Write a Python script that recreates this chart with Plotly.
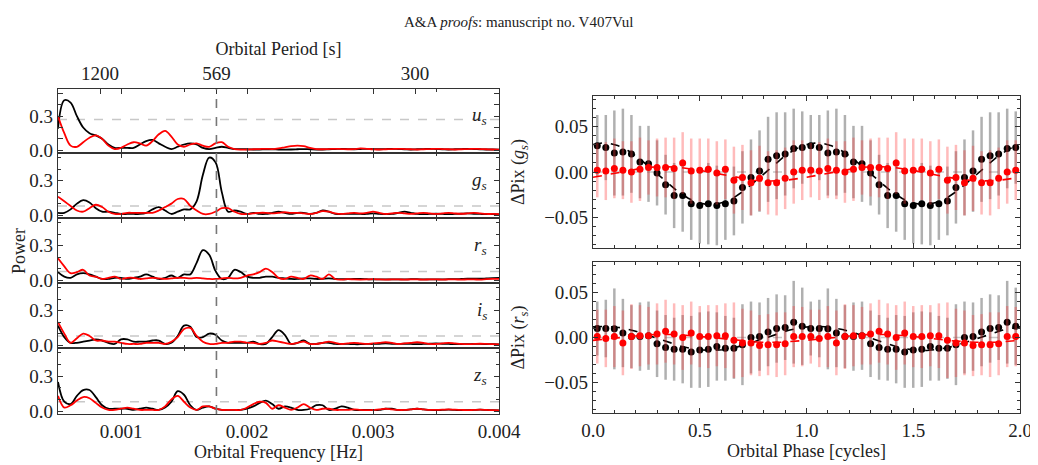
import numpy as np
import plotly.graph_objects as go

# ---------------- data ----------------
freq = [round(0.0005 + 0.00005 * k, 6) for k in range(71)]

u_black = [0.19, 0.44, 0.42, 0.30, 0.20, 0.15, 0.13, 0.10, 0.05, 0.02, 0.02, 0.02, 0.02, 0.05, 0.08,
           0.09, 0.06, 0.03, 0.01, 0.03, 0.05, 0.06, 0.05, 0.02, 0.01, 0.02, 0.03, 0.02, 0.01, 0.01,
           0.008, 0.006, 0.006, 0.008, 0.008, 0.006, 0.005, 0.006, 0.008, 0.01, 0.008, 0.006, 0.006, 0.008,
           0.01, 0.012, 0.01, 0.008, 0.01, 0.012, 0.01, 0.008, 0.01, 0.012, 0.01, 0.008, 0.006, 0.008, 0.01,
           0.012, 0.01, 0.008, 0.006, 0.008, 0.01, 0.012, 0.01, 0.008, 0.006, 0.006, 0.005]
u_red = [0.30, 0.15, 0.04, 0.03, 0.07, 0.11, 0.13, 0.10, 0.04, 0.01, 0.02, 0.05, 0.07, 0.06, 0.04,
         0.08, 0.14, 0.17, 0.12, 0.05, 0.03, 0.05, 0.06, 0.04, 0.03, 0.06, 0.07, 0.03, 0.01, 0.005,
         0.006, 0.008, 0.01, 0.012, 0.01, 0.015, 0.025, 0.035, 0.04, 0.035, 0.02, 0.01, 0.008, 0.01,
         0.012, 0.01, 0.008, 0.01, 0.015, 0.012, 0.008, 0.006, 0.008, 0.01, 0.012, 0.01, 0.008, 0.006,
         0.008, 0.01, 0.012, 0.01, 0.008, 0.006, 0.008, 0.01, 0.012, 0.01, 0.008, 0.006, 0.005]
g_black = [0.02, 0.02, 0.05, 0.10, 0.13, 0.11, 0.06, 0.03, 0.03, 0.02, 0.01, 0.01, 0.01, 0.01, 0.02,
           0.05, 0.07, 0.04, 0.01, 0.03, 0.05, 0.05, 0.12, 0.35, 0.50, 0.46, 0.20, 0.03, 0.04, 0.03,
           0.01, 0.02, 0.01, 0.01, 0.02, 0.03, 0.02, 0.01, 0.02, 0.02, 0.01, 0.02, 0.04, 0.03, 0.01,
           0.01, 0.01, 0.01, 0.01, 0.01, 0.015, 0.01, 0.008, 0.01, 0.02, 0.03, 0.02, 0.01, 0.008, 0.01,
           0.012, 0.01, 0.008, 0.01, 0.012, 0.015, 0.012, 0.01, 0.008, 0.008, 0.006]
g_red = [0.16, 0.12, 0.08, 0.04, 0.03, 0.06, 0.09, 0.07, 0.03, 0.01, 0.01, 0.02, 0.02, 0.02, 0.02,
         0.02, 0.04, 0.07, 0.10, 0.14, 0.14, 0.08, 0.04, 0.01, 0.01, 0.03, 0.06, 0.06, 0.03, 0.01,
         0.01, 0.015, 0.02, 0.02, 0.015, 0.02, 0.025, 0.02, 0.02, 0.015, 0.01, 0.02, 0.035, 0.03, 0.015,
         0.01, 0.015, 0.02, 0.015, 0.02, 0.03, 0.02, 0.01, 0.015, 0.02, 0.015, 0.01, 0.015, 0.02, 0.015,
         0.01, 0.015, 0.02, 0.015, 0.012, 0.015, 0.02, 0.015, 0.01, 0.01, 0.008]
r_black = [0.07, 0.03, 0.02, 0.05, 0.06, 0.05, 0.03, 0.01, 0.01, 0.02, 0.02, 0.01, 0.02, 0.03, 0.05,
           0.03, 0.01, 0.02, 0.04, 0.02, 0.05, 0.05, 0.15, 0.26, 0.22, 0.08, 0.01, 0.02, 0.09, 0.07,
           0.03, 0.02, 0.02, 0.03, 0.03, 0.02, 0.015, 0.01, 0.01, 0.015, 0.015, 0.01, 0.012, 0.015, 0.01,
           0.008, 0.008, 0.01, 0.01, 0.008, 0.006, 0.006, 0.006, 0.006, 0.006, 0.006, 0.008, 0.008, 0.006,
           0.006, 0.006, 0.006, 0.008, 0.008, 0.01, 0.012, 0.012, 0.012, 0.015, 0.018, 0.02]
r_red = [0.19, 0.12, 0.06, 0.07, 0.09, 0.04, 0.03, 0.01, 0.02, 0.03, 0.01, 0.02, 0.02, 0.01, 0.015,
         0.02, 0.015, 0.01, 0.015, 0.02, 0.02, 0.015, 0.02, 0.015, 0.01, 0.01, 0.015, 0.02, 0.015, 0.02,
         0.04, 0.05, 0.07, 0.10, 0.07, 0.02, 0.01, 0.03, 0.02, 0.01, 0.04, 0.03, 0.01, 0.05, 0.01,
         0.005, 0.008, 0.006, 0.005, 0.006, 0.008, 0.006, 0.005, 0.006, 0.006, 0.005, 0.006, 0.006, 0.005,
         0.006, 0.006, 0.005, 0.006, 0.006, 0.005, 0.006, 0.006, 0.005, 0.008, 0.01, 0.01]
i_black = [0.17, 0.07, 0.02, 0.02, 0.03, 0.04, 0.05, 0.04, 0.02, 0.01, 0.05, 0.05, 0.03, 0.03, 0.03,
           0.04, 0.04, 0.01, 0.02, 0.08, 0.17, 0.16, 0.07, 0.07, 0.10, 0.09, 0.04, 0.02, 0.02, 0.02,
           0.02, 0.03, 0.01, 0.01, 0.07, 0.13, 0.09, 0.01, 0.02, 0.04, 0.01, 0.01, 0.02, 0.02, 0.01,
           0.01, 0.01, 0.008, 0.008, 0.01, 0.01, 0.012, 0.015, 0.012, 0.01, 0.012, 0.01, 0.008, 0.01,
           0.012, 0.015, 0.012, 0.01, 0.008, 0.008, 0.008, 0.01, 0.01, 0.008, 0.008, 0.006]
i_red = [0.20, 0.10, 0.02, 0.06, 0.10, 0.08, 0.04, 0.04, 0.03, 0.03, 0.02, 0.01, 0.01, 0.01, 0.02,
         0.02, 0.02, 0.01, 0.03, 0.07, 0.14, 0.15, 0.08, 0.03, 0.01, 0.01, 0.02, 0.02, 0.03, 0.03,
         0.02, 0.02, 0.01, 0.02, 0.04, 0.03, 0.02, 0.01, 0.02, 0.03, 0.01, 0.01, 0.02, 0.03, 0.02,
         0.01, 0.015, 0.02, 0.015, 0.01, 0.015, 0.02, 0.025, 0.02, 0.01, 0.015, 0.02, 0.025, 0.02, 0.01,
         0.01, 0.015, 0.02, 0.015, 0.01, 0.008, 0.01, 0.012, 0.01, 0.008, 0.006]
z_black = [0.25, 0.08, 0.06, 0.13, 0.18, 0.18, 0.12, 0.05, 0.02, 0.02, 0.02, 0.02, 0.01, 0.02, 0.03,
           0.02, 0.01, 0.03, 0.08, 0.17, 0.14, 0.05, 0.01, 0.03, 0.04, 0.02, 0.01, 0.01, 0.01, 0.01,
           0.02, 0.04, 0.07, 0.09, 0.06, 0.02, 0.04, 0.03, 0.01, 0.01, 0.02, 0.05, 0.05, 0.01, 0.02,
           0.04, 0.03, 0.01, 0.01, 0.01, 0.01, 0.01, 0.02, 0.02, 0.01, 0.01, 0.015, 0.02, 0.015, 0.01,
           0.008, 0.01, 0.012, 0.01, 0.008, 0.008, 0.01, 0.012, 0.01, 0.008, 0.006]
z_red = [0.13, 0.03, 0.05, 0.09, 0.12, 0.11, 0.07, 0.03, 0.01, 0.01, 0.02, 0.03, 0.02, 0.01, 0.01,
         0.01, 0.01, 0.04, 0.10, 0.13, 0.08, 0.03, 0.01, 0.04, 0.04, 0.02, 0.01, 0.01, 0.01, 0.01,
         0.03, 0.06, 0.08, 0.07, 0.02, 0.05, 0.03, 0.01, 0.03, 0.06, 0.03, 0.01, 0.02, 0.02, 0.01,
         0.01, 0.01, 0.015, 0.01, 0.008, 0.01, 0.015, 0.02, 0.015, 0.01, 0.01, 0.015, 0.02, 0.015, 0.01,
         0.01, 0.012, 0.015, 0.012, 0.01, 0.008, 0.01, 0.012, 0.01, 0.008, 0.006]
thresholds = [0.27, 0.08, 0.075, 0.08, 0.08]
band_labels = ["u", "g", "r", "i", "z"]
period_ticks = [1200, 569, 300]
marked_period = 569

phase = [round(0.02 + 0.04 * k, 2) for k in range(50)]
g_black_pix = [0.029, 0.027, 0.021, 0.022, 0.020, 0.011, 0.009, -0.001, -0.014, -0.026, -0.026, -0.035, -0.037,
               -0.035, -0.037, -0.035, -0.032, -0.017, -0.006, 0.001, 0.014, 0.018, 0.020, 0.026, 0.027]
g_red_pix = [0.002, 0.001, 0.004, 0.002, 0.000, 0.003, 0.005, 0.005, 0.005, 0.004, 0.010, 0.001, 0.002,
             0.003, -0.001, 0.003, -0.009, -0.006, -0.012, -0.007, -0.012, -0.012, -0.007, 0.000, 0.002]
g_black_err = [0.034, 0.036, 0.047, 0.048, 0.043, 0.040, 0.042, 0.036, 0.033, 0.036, 0.040, 0.040, 0.042,
               0.045, 0.044, 0.040, 0.038, 0.040, 0.042, 0.045, 0.047, 0.048, 0.046, 0.044, 0.040]
g_red_err = [0.030, 0.032, 0.033, 0.032, 0.034, 0.035, 0.030, 0.032, 0.033, 0.034, 0.034, 0.036, 0.035,
             0.034, 0.035, 0.033, 0.037, 0.036, 0.036, 0.036, 0.035, 0.036, 0.034, 0.035, 0.033]
r_black_pix = [0.010, 0.010, 0.0096, 0.005, 0.001, 0.001, 0.002, -0.007, -0.011, -0.013, -0.013, -0.016, -0.014,
               -0.013, -0.010, -0.012, -0.012, -0.008, 0.000, 0.001, 0.006, 0.010, 0.011, 0.017, 0.0125]
r_red_pix = [0.001, -0.001, 0.001, -0.006, 0.001, 0.002, 0.002, 0.004, 0.007, 0.004, 0.000, 0.005, 0.001,
             0.001, 0.002, 0.002, -0.003, -0.006, -0.006, -0.009, -0.008, -0.008, -0.007, 0.001, 0.001]
r_black_err = [0.030, 0.032, 0.045, 0.038, 0.035, 0.038, 0.038, 0.037, 0.036, 0.035, 0.038, 0.040, 0.042,
               0.042, 0.038, 0.036, 0.034, 0.045, 0.040, 0.038, 0.038, 0.038, 0.036, 0.046, 0.043]
r_red_err = [0.030, 0.032, 0.034, 0.036, 0.036, 0.034, 0.032, 0.034, 0.035, 0.034, 0.036, 0.035, 0.034,
             0.035, 0.034, 0.036, 0.042, 0.038, 0.036, 0.034, 0.034, 0.036, 0.035, 0.034, 0.033]
# sinusoid fit parameters: (amplitude, phase of maximum, offset)
g_black_fit = (0.034, 0.05, -0.002)
g_red_fit = (0.008, 0.33, -0.002)
r_black_fit = (0.0135, 0.05, -0.001)
r_red_fit = (0.0045, 0.33, -0.001)

# ---------------- figure ----------------
FONT = "Liberation Serif"
OFF = 8                      # page body margin
W, H = 1038 - OFF, 465 - OFF
fig = go.Figure()

def px_x(p):
    return (p - OFF) / W

def py(p):
    return 1 - (p - OFF) / H

TF = dict(family=FONT, size=18, color="#222")
left_dom = [px_x(58), px_x(499)]
edges = [89, 153, 218, 283, 348, 414]
black_sets = [u_black, g_black, r_black, i_black, z_black]
red_sets = [u_red, g_red, r_red, i_red, z_red]
axis_common = dict(showline=True, linecolor="#333", linewidth=1.2, mirror="allticks", ticks="inside",
                   ticklen=5, tickcolor="#333", showgrid=False, zeroline=False, automargin=False,
                   tickfont=dict(family=FONT, size=19, color="#222"))
minor = dict(ticks="inside", ticklen=3, tickcolor="#333")
layout = {}
shapes = []
annotations = []
for i in range(5):
    n = i + 1
    xa, ya = ("x" if n == 1 else f"x{n}"), ("y" if n == 1 else f"y{n}")
    fig.add_trace(go.Scatter(x=freq, y=black_sets[i], mode="lines", line=dict(color="black", width=1.8, shape="spline"),
                             xaxis=xa, yaxis=ya, showlegend=False))
    fig.add_trace(go.Scatter(x=freq, y=red_sets[i], mode="lines", line=dict(color="red", width=1.8, shape="spline"),
                             xaxis=xa, yaxis=ya, showlegend=False))
    layout[f"xaxis{n if n > 1 else ''}"] = dict(axis_common, domain=left_dom, anchor=ya, range=[0.0005, 0.004],
                                                tickvals=[0.001, 0.002, 0.003, 0.004], tickformat=".3f",
                                                showticklabels=(n == 5), minor=dict(minor, dtick=0.0005),
                                                **({} if n == 1 else dict(matches="x")))
    layout[f"yaxis{n if n > 1 else ''}"] = dict(axis_common, domain=[py(edges[i + 1]), py(edges[i])], anchor=xa,
                                                range=[-0.025, 0.54], tickvals=[0.0, 0.3], tickformat=".1f",
                                                minor=dict(minor, dtick=0.1))
    shapes.append(dict(type="line", xref=xa, yref=ya, x0=0.0005, x1=0.004, y0=thresholds[i], y1=thresholds[i],
                       line=dict(color="#c8c8c8", width=1.5, dash="dash"), layer="below"))
    annotations.append(dict(xref=xa, yref=ya, x=0.00392, y=0.3, xanchor="right", yanchor="middle", showarrow=False,
                            text=f"<i>{band_labels[i]}<sub>s</sub></i>", font=dict(family=FONT, size=19, color="#222")))

# top period axis
fig.add_trace(go.Scatter(x=[0.0005, 0.004], y=[None, None], xaxis="x6", yaxis="y", showlegend=False, hoverinfo="skip"))
layout["xaxis6"] = dict(axis_common, overlaying="x", side="top", anchor="y", range=[0.0005, 0.004],
                        tickvals=[1 / p for p in period_ticks], ticktext=[str(p) for p in period_ticks], mirror=False,
                        title=dict(text="Orbital Period [s]", font=TF, standoff=2))
shapes.append(dict(type="line", xref="x", yref="paper", x0=1 / marked_period, x1=1 / marked_period,
                   y0=py(edges[-1]), y1=py(edges[0]), line=dict(color="#777", width=1.6, dash="dash")))

# right panels
right_dom = [px_x(593), px_x(1020)]
ph_fine = np.linspace(0, 2, 400)
panels = [("x7", "y7", [96, 248], g_black_pix, g_black_err, g_red_pix, g_red_err, g_black_fit, g_red_fit, "g"),
          ("x8", "y8", [262, 413], r_black_pix, r_black_err, r_red_pix, r_red_err, r_black_fit, r_red_fit, "r")]
for xa, ya, (top, bot), bp, be, rp, re, bf, rf, band in panels:
    for vals, errs, fit, col, ecol in [(bp, be, bf, "black", "rgba(80,80,80,0.45)"),
                                       (rp, re, rf, "red", "rgba(255,60,60,0.35)")]:
        fig.add_trace(go.Scatter(x=phase, y=vals + vals, mode="markers", marker=dict(color=col, size=7),
                                 error_y=dict(type="data", array=errs + errs, color=ecol, thickness=2.5, width=0),
                                 xaxis=xa, yaxis=ya, showlegend=False))
        amp, pmax, off = fit
        fig.add_trace(go.Scatter(x=ph_fine, y=off + amp * np.cos(2 * np.pi * (ph_fine - pmax)), mode="lines",
                                 line=dict(color=col, width=1.6, dash="dash"), xaxis=xa, yaxis=ya, showlegend=False))
    n = xa[1:]
    layout[f"xaxis{n}"] = dict(axis_common, domain=right_dom, anchor=ya, range=[0, 2], dtick=0.5, tickformat=".1f",
                               showticklabels=(n == "8"), minor=dict(minor, dtick=0.1))
    layout[f"yaxis{n}"] = dict(axis_common, domain=[py(bot), py(top)], anchor=xa, range=[-0.084, 0.084],
                               tickvals=[-0.05, 0, 0.05], tickformat=".2f", minor=dict(minor, dtick=0.01),
                               title=dict(text=f"ΔPix (<i>{band}<sub>s</sub></i>)", standoff=14, font=TF))
    shapes.append(dict(type="line", xref=xa, yref=ya, x0=0, x1=2, y0=0, y1=0,
                       line=dict(color="#c8c8c8", width=1.5, dash="dash"), layer="below"))

layout["xaxis5"]["title"] = dict(text="Orbital Frequency [Hz]", font=TF, standoff=4)
layout["xaxis8"]["title"] = dict(text="Orbital Phase [cycles]", font=TF, standoff=4)

annotations.append(dict(xref="paper", yref="paper", x=px_x(519), y=py(12), showarrow=False,
                        text="A&A <i>proofs</i>: manuscript no. V407Vul", font=dict(family=FONT, size=15, color="#222")))
annotations.append(dict(xref="paper", yref="paper", x=px_x(7), y=py(251), xanchor="left", showarrow=False,
                        textangle=-90, text="Power", font=TF))

fig.update_layout(width=W, height=H, margin=dict(l=0, r=0, t=0, b=0), plot_bgcolor="white", paper_bgcolor="white",
                  shapes=shapes, annotations=annotations, font=dict(family=FONT), **layout)
fig.write_html("out.html")
